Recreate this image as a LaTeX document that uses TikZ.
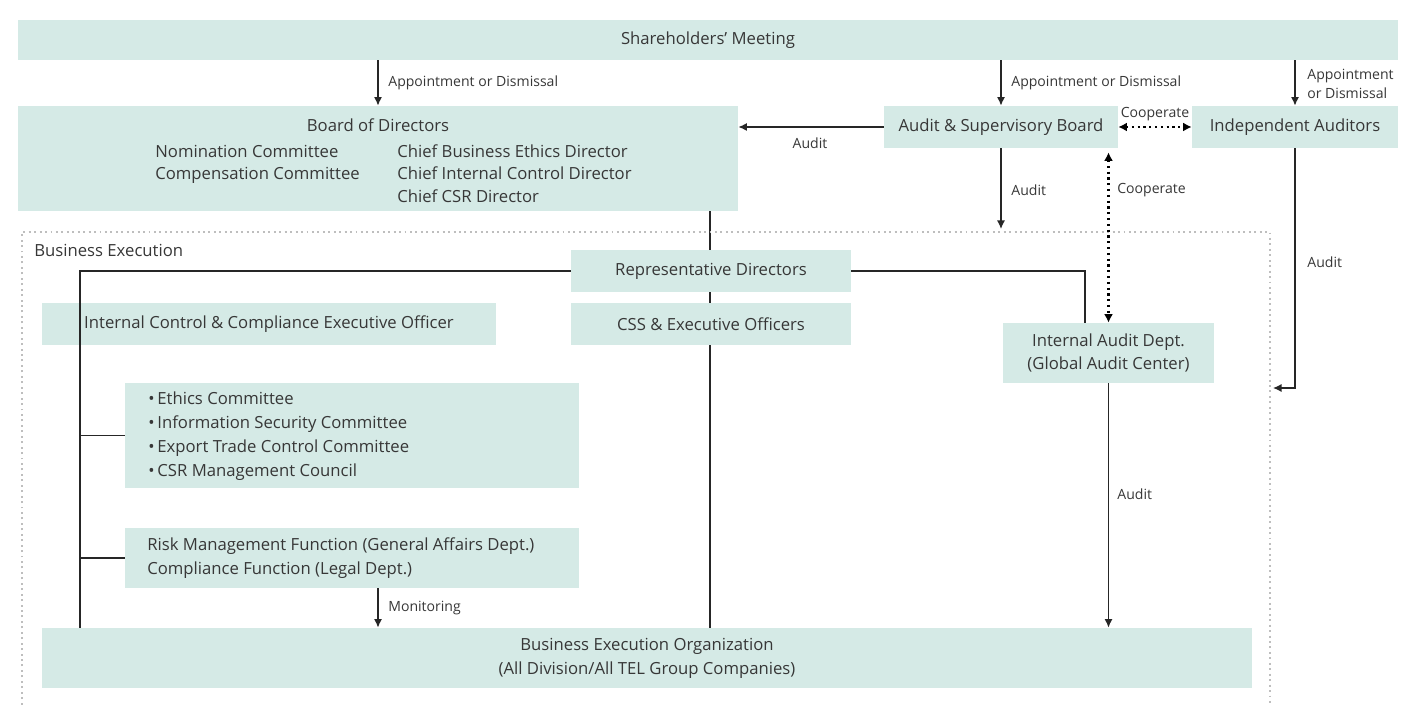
\documentclass[tikz,border=0pt]{standalone}
\usepackage{fontspec}
\setmainfont{Open Sans}
\usetikzlibrary{fit,arrows.meta,backgrounds}
\definecolor{boxfill}{RGB}{213,234,230}
\definecolor{txt}{RGB}{55,55,55}
\definecolor{bound}{RGB}{190,190,190}
\tikzset{
  box/.style={fill=boxfill, draw=none, inner sep=0pt, text=txt, font=\fontsize{9.5}{10}\selectfont, align=center},
  txtnode/.style={text=txt, font=\fontsize{9.5}{12.7}\selectfont, inner sep=0pt},
  lbl/.style={text=txt, font=\fontsize{8}{10.5}\selectfont, inner sep=0pt},
  conn/.style={line width=0.75pt, draw=black!85},
  arr/.style={conn, -{Latex[length=1.7mm,width=1.6mm]}},
  coop/.style={line width=1.3pt, dotted, draw=black, {Latex[length=1.7mm,width=1.8mm]}-{Latex[length=1.7mm,width=1.8mm]}},
}
\begin{document}
\begin{tikzpicture}[x=0.02cm,y=-0.02cm]
\useasboundingbox (0,0) rectangle (1407,705);
% boundary
\draw[bound, line width=1.1pt, dotted] (22,710) -- (22,232) -- (1270,232) -- (1270,710);
\node[txtnode, anchor=west] (be) at (34,250) {Business Execution};
% boxes
\node[box, fit={(18,20) (1398,60)}] (sm) {};
\node[txtnode] (smt) at (sm.center) {Shareholders’ Meeting};
\node[box, fit={(18,106) (738,211)}] (board) {};
\node[txtnode] (bt) at (378,125) {Board of Directors};
\node[txtnode, anchor=west, align=left] (bl) at (155,164.5) {Nomination Committee\\Compensation Committee};
\node[txtnode, anchor=west, align=left] (br) at (397,173.5) {Chief Business Ethics Director\\Chief Internal Control Director\\Chief CSR Director};
\node[box, fit={(884,106) (1118,148)}] (asb) {};
\node[txtnode] (asbt) at (asb.center) {Audit \& Supervisory Board};
\node[box, fit={(1192,106) (1398,148)}] (ia) {};
\node[txtnode] (iat) at (ia.center) {Independent Auditors};
\node[box, fit={(571,250) (851,292)}] (rd) {};
\node[txtnode] (rdt) at (rd.center) {Representative Directors};
\node[box, fit={(571,303) (851,345)}] (css) {};
\node[txtnode] (csst) at (css.center) {CSS \& Executive Officers};
\node[box, fit={(42,303) (496,345)}] (icc) {};
\node[txtnode] (icct) at (icc.center) {Internal Control \& Compliance Executive Officer};
\node[box, fit={(125,383) (579,488)}] (eth) {};
\node[txtnode, anchor=west, align=left, font=\fontsize{9.5}{13.6}\selectfont] (etht) at (148,436) {•\,Ethics Committee\\•\,Information Security Committee\\•\,Export Trade Control Committee\\•\,CSR Management Council};
\node[box, fit={(125,528) (579,588)}] (risk) {};
\node[txtnode, anchor=west, align=left, font=\fontsize{9.5}{13.6}\selectfont] (riskt) at (147,558) {Risk Management Function (General Affairs Dept.)\\Compliance Function (Legal Dept.)};
\node[box, fit={(1003,323) (1214,383)}] (iad) {};
\node[txtnode, align=center, font=\fontsize{9.5}{13.6}\selectfont] (iadt) at (iad.center) {Internal Audit Dept.\\(Global Audit Center)};
\node[box, fit={(42,628) (1252,688)}] (beo) {};
\node[txtnode, align=center, font=\fontsize{9.5}{13.6}\selectfont] (beot) at (beo.center) {Business Execution Organization\\(All Division/All TEL Group Companies)};
% helper coordinates
\coordinate (lx) at (80,0);
\coordinate (rx) at (1085,0);
\coordinate (mx) at (710,0);
\coordinate (bdy) at (0,229);
\coordinate (iaend) at (1273,388);
% connectors
\begin{scope}[on background layer]
\draw[conn] (board.south -| mx) -- (beo.north -| mx);
\end{scope}
\draw[arr] (sm.south -| board.north) -- (board.north);
\draw[arr] (sm.south -| asb.north) -- (asb.north);
\draw[arr] (sm.south -| ia.north) -- (ia.north);
\draw[arr] (asb.west) -- (board.east |- asb.west);
\draw[coop] (asb.east) -- (ia.west);
\draw[arr] (asb.south) -- (asb.south |- bdy);
\draw[coop] (iad.north |- asb.south) ++(0,4) -- (iad.north);
\draw[arr] (ia.south) |- (iaend);
\draw[conn] (rd.west) -| (lx |- beo.north);
\draw[conn] (rd.east) -| (rx |- iad.north);
\draw[conn] (lx |- eth.west) -- (eth.west);
\draw[conn] (lx |- risk.west) -- (risk.west);
\draw[arr] (risk.south -| board.north) -- (beo.north -| board.north);
\draw[arr] (iad.south) -- (iad.south |- beo.north);
% labels
\node[lbl, anchor=west] (l1) at (388,83) {Appointment or Dismissal};
\node[lbl, anchor=west] (l2) at (1011,83) {Appointment or Dismissal};
\node[lbl, anchor=west, align=left] (l3) at (1307,84) {Appointment\\or Dismissal};
\node[lbl] (l4) at (810,143) {Audit};
\node[lbl] (l5) at (1155,114) {Cooperate};
\node[lbl, anchor=west] (l6) at (1011,190) {Audit};
\node[lbl, anchor=west] (l7) at (1117,190) {Cooperate};
\node[lbl, anchor=west] (l8) at (1307,262) {Audit};
\node[lbl, anchor=west] (l9) at (388,608) {Monitoring};
\node[lbl, anchor=west] (l10) at (1117,494) {Audit};
\end{tikzpicture}
\end{document}
